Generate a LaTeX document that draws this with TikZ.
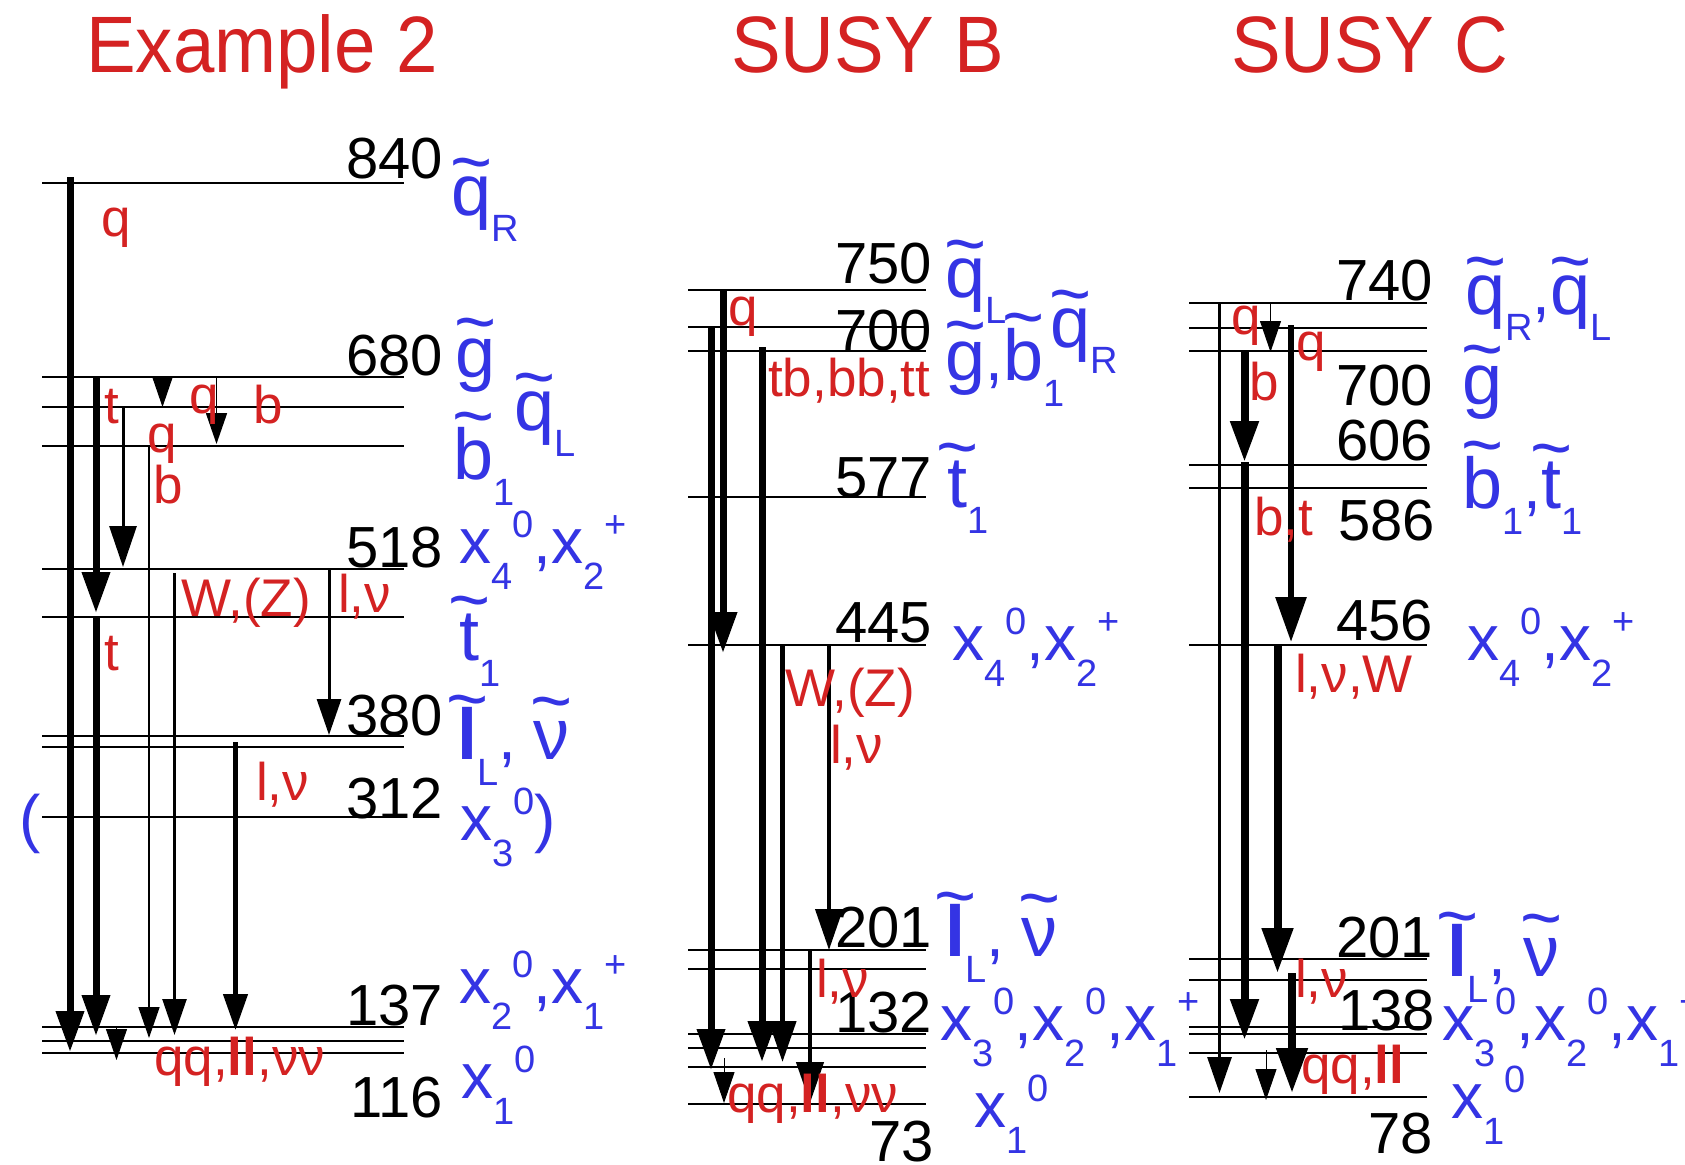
\documentclass[tikz,border=0pt]{standalone}
\usepackage{fontspec}
\setmainfont{Liberation Sans}
\usetikzlibrary{arrows.meta}
\definecolor{lblred}{RGB}{212,34,34}
\definecolor{lblblue}{RGB}{52,52,228}
\newcommand{\fsz}[1]{\fontsize{#1}{#1}\selectfont}
\newcommand{\lo}[1]{\raisebox{-26pt}{\fsz{38}#1}}
\newcommand{\hi}[1]{\raisebox{26pt}{\fsz{38}#1}}
\newcommand{\tl}[2][0.4em]{{\fsz{72}\ooalign{#2\cr\hidewidth\raisebox{#1}{\textasciitilde}\hidewidth\cr}}}
\begin{document}
\begin{tikzpicture}[x=1pt,y=-1pt,
  lvl/.style={line width=1.6pt},
  num/.style={anchor=base east, inner sep=0pt, font=\fsz{58}},
  lab/.style={anchor=base west, inner sep=0pt, text=lblblue, font=\fsz{64}},
  dec/.style={anchor=base west, inner sep=0pt, text=lblred, font=\fsz{53}},
  ttl/.style={anchor=base west, inner sep=0pt, text=lblred, font=\fsz{80}, xscale=0.93},
  hxl/.style={-{Triangle[length=45pt,width=30pt]}},
  hbig/.style={-{Triangle[length=41pt,width=27pt]}},
  hmid/.style={-{Triangle[length=36pt,width=24pt]}},
  hsmall/.style={-{Triangle[length=31pt,width=21pt]}},
  wA/.style={line width=7pt}, wB/.style={line width=4.5pt}, wC/.style={line width=3pt},
  wD/.style={line width=1.8pt}, wE/.style={line width=1pt}]
\fill[white] (0,0) rectangle (1685,1164);
\useasboundingbox (0,0) rectangle (1685,1164);

% titles
\node[ttl] (t1) at (86,72) {Example 2};
\node[ttl] (t2) at (731,72) {SUSY B};
\node[ttl] (t3) at (1231,72) {SUSY C};

% level lines
\foreach \y in {183,377,407,446,569,617,736,747,817,1027,1041,1053}{
  \coordinate (pa\y) at (42,\y); \coordinate (pb\y) at (404,\y);
  \draw[lvl] (pa\y) -- (pb\y);}
\foreach \y in {290,327,351,497,645,950,969,1034,1048,1067,1104}{
  \coordinate (qa\y) at (688,\y); \coordinate (qb\y) at (926,\y);
  \draw[lvl] (qa\y) -- (qb\y);}
\foreach \y in {303,328,351,465,488,645,959,980,1027,1034,1053,1097}{
  \coordinate (ra\y) at (1189,\y); \coordinate (rb\y) at (1427,\y);
  \draw[lvl] (ra\y) -- (rb\y);}

% arrows panel 1
\coordinate (a1s) at (70,177);    \coordinate (a1e) at (70,1052);
\coordinate (a2s) at (96,377);    \coordinate (a2e) at (96,613);
\coordinate (a3s) at (96,616);    \coordinate (a3e) at (96,1036);
\coordinate (a4s) at (123,407);   \coordinate (a4e) at (123,567);
\coordinate (a5s) at (162.5,376); \coordinate (a5e) at (162.5,407);
\coordinate (a6s) at (216.5,377); \coordinate (a6e) at (216.5,444);
\coordinate (a7s) at (149,446);   \coordinate (a7e) at (149,1038);
\coordinate (a8s) at (174.5,573); \coordinate (a8e) at (174.5,1035);
\coordinate (a9s) at (329,569);   \coordinate (a9e) at (329,735);
\coordinate (a10s) at (235.5,742);\coordinate (a10e) at (235.5,1030);
\coordinate (a11s) at (116.5,1027);\coordinate (a11e) at (116.5,1060);
\draw[wA,hbig] (a1s) -- (a1e);
\draw[wA,hbig] (a2s) -- (a2e);
\draw[wA,hbig] (a3s) -- (a3e);
\draw[wC,hbig] (a4s) -- (a4e);
\draw[wE,hsmall] (a5s) -- (a5e);
\draw[wD,hsmall] (a6s) -- (a6e);
\draw[wD,hsmall] (a7s) -- (a7e);
\draw[line width=2.5pt,hmid] (a8s) -- (a8e);
\draw[wC,hmid] (a9s) -- (a9e);
\draw[wB,hmid] (a10s) -- (a10e);
\draw[wE,hsmall] (a11s) -- (a11e);

% arrows panel 2
\coordinate (b1s) at (723,290);   \coordinate (b1e) at (723,653);
\coordinate (b2s) at (711,327);   \coordinate (b2e) at (711,1070);
\coordinate (b3s) at (724,1058);  \coordinate (b3e) at (724,1103);
\coordinate (b4s) at (762,347);   \coordinate (b4e) at (762,1062);
\coordinate (b5s) at (782.5,645); \coordinate (b5e) at (782.5,1062);
\coordinate (b6s) at (829,645);   \coordinate (b6e) at (829,950);
\coordinate (b7s) at (810,950);   \coordinate (b7e) at (810,1103);
\draw[wA,hbig] (b1s) -- (b1e);
\draw[wA,hbig] (b2s) -- (b2e);
\draw[wE,hsmall] (b3s) -- (b3e);
\draw[wA,hbig] (b4s) -- (b4e);
\draw[wB,hbig] (b5s) -- (b5e);
\draw[line width=4pt,hbig] (b6s) -- (b6e);
\draw[wB,hbig] (b7s) -- (b7e);

% arrows panel 3
\coordinate (c1s) at (1219.5,302); \coordinate (c1e) at (1219.5,1093);
\coordinate (c2s) at (1270.5,302); \coordinate (c2e) at (1270.5,352);
\coordinate (c3s) at (1244.5,351); \coordinate (c3e) at (1244.5,462);
\coordinate (c4s) at (1244.5,462); \coordinate (c4e) at (1244.5,1040);
\coordinate (c5s) at (1291,325);   \coordinate (c5e) at (1291,642);
\coordinate (c6s) at (1277.5,645); \coordinate (c6e) at (1277.5,973);
\coordinate (c7s) at (1292,973);   \coordinate (c7e) at (1292,1093);
\coordinate (c8s) at (1266,1050);  \coordinate (c8e) at (1266,1100);
\draw[wC,hmid] (c1s) -- (c1e);
\draw[wE,hsmall] (c2s) -- (c2e);
\draw[line width=8pt,hbig] (c3s) -- (c3e);
\draw[line width=8pt,hbig] (c4s) -- (c4e);
\draw[line width=6pt,hxl] (c5s) -- (c5e);
\draw[line width=8pt,hxl] (c6s) -- (c6e);
\draw[line width=8pt,hxl] (c7s) -- (c7e);
\draw[wE,hsmall] (c8s) -- (c8e);

% numbers panel 1
\node[num] (n840) at (443,178) {840};
\node[num] (n680) at (443,375) {680};
\node[num] (n518) at (443,567) {518};
\node[num] (n380) at (443,735) {380};
\node[num] (n312) at (443,818) {312};
\node[num] (n137) at (443,1025) {137};
\node[num] (n116) at (443,1117) {116};
% numbers panel 2
\node[num] (m750) at (932,283) {750};
\node[num] (m700) at (932,350) {700};
\node[num] (m577) at (932,497) {577};
\node[num] (m445) at (932,642) {445};
\node[num] (m201) at (932,947) {201};
\node[num] (m132) at (932,1032) {132};
\node[num] (m73) at (934,1161) {73};
% numbers panel 3
\node[num] (k740) at (1433,300) {740};
\node[num] (k700) at (1433,405) {700};
\node[num] (k606) at (1433,460) {606};
\node[num] (k586) at (1435,540) {586};
\node[num] (k456) at (1433,640) {456};
\node[num] (k201) at (1433,957) {201};
\node[num] (k138) at (1435,1030) {138};
\node[num] (k78) at (1433,1153) {78};

% blue labels panel 1
\node[lab] (p1qR) at (451,215) {\tl{q}\lo{R}};
\node[lab] (p1g) at (455,377) {\tl[0.43em]{g}};
\node[lab] (p1qL) at (514,430) {\tl{q}\lo{L}};
\node[lab] (p1b) at (453,479) {\tl[0.54em]{b}\lo{1}};
\node[lab] (p1x4) at (459,563) {x\lo{4}\hi{0},x\lo{2}\hi{+}};
\node[lab] (p1t) at (459,660) {\tl[0.5em]{t}\lo{1}};
\node[lab] (p1l) at (457,759) {\tl[0.5em]{\textbf{l}}\lo{L}, \tl[0.46em]{ν}};
\node[lab] (p1par) at (19,840) {(};
\node[lab] (p1x3) at (460,840) {x\lo{3}\hi{0})};
\node[lab] (p1x2) at (459,1003) {x\lo{2}\hi{0},x\lo{1}\hi{+}};
\node[lab] (p1x1) at (461,1098) {x\lo{1}\hi{0}};

% red labels panel 1
\node[dec] (p1rq) at (101,236) {q};
\node[dec] (p1rt) at (104,423) {t};
\node[dec] (p1rq2) at (189,413) {q};
\node[dec] (p1rb) at (253,423) {b};
\node[dec] (p1rq3) at (147,452) {q};
\node[dec] (p1rb2) at (153,503) {b};
\node[dec] (p1rW) at (181,616) {W,(Z)};
\node[dec] (p1rl) at (338,612) {l,ν};
\node[dec] (p1rt2) at (104,670) {t};
\node[dec] (p1rl2) at (256,800) {l,ν};
\node[dec] (p1rqq) at (154,1075) {qq,\textbf{ll},νν};

% blue labels panel 2
\node[lab] (p2qL) at (945,297) {\tl{q}\lo{L}};
\node[lab] (p2qR) at (1050,347) {\tl{q}\lo{R}};
\node[lab] (p2gb) at (945,380) {\tl[0.43em]{g},\tl[0.54em]{b}\lo{1}};
\node[lab] (p2t) at (947,507) {\tl[0.5em]{t}\lo{1}};
\node[lab] (p2x4) at (952,660) {x\lo{4}\hi{0},x\lo{2}\hi{+}};
\node[lab] (p2l) at (945,956) {\tl[0.5em]{\textbf{l}}\lo{L}, \tl[0.46em]{ν}};
\node[lab] (p2x3) at (940,1040) {x\lo{3}\hi{0},x\lo{2}\hi{0},x\lo{1}\hi{+}};
\node[lab] (p2x1) at (974,1127) {x\lo{1}\hi{0}};

% red labels panel 2
\node[dec] (p2rq) at (728,325) {q};
\node[dec] (p2rtb) at (768,396) {tb,bb,tt};
\node[dec] (p2rW) at (785,706) {W,(Z)};
\node[dec] (p2rl) at (830,763) {l,ν};
\node[dec] (p2rl2) at (816,997) {l,ν};
\node[dec] (p2rqq) at (727,1112) {qq,\textbf{ll},νν};

% blue labels panel 3
\node[lab] (p3q) at (1465,314) {\tl{q}\lo{R},\tl{q}\lo{L}};
\node[lab] (p3g) at (1462,404) {\tl[0.43em]{g}};
\node[lab] (p3bt) at (1462,508) {\tl[0.54em]{b}\lo{1},\tl[0.5em]{t}\lo{1}};
\node[lab] (p3x4) at (1467,660) {x\lo{4}\hi{0},x\lo{2}\hi{+}};
\node[lab] (p3l) at (1447,976) {\tl[0.5em]{\textbf{l}}\lo{L}, \tl[0.46em]{ν}};
\node[lab] (p3x3) at (1442,1040) {x\lo{3}\hi{0},x\lo{2}\hi{0},x\lo{1}\hi{+}};
\node[lab] (p3x1) at (1451,1118) {x\lo{1}\hi{0}};

% red labels panel 3
\node[dec] (p3rq) at (1231,334) {q};
\node[dec] (p3rq2) at (1296,360) {q};
\node[dec] (p3rb) at (1249,400) {b};
\node[dec] (p3rbt) at (1254,535) {b,t};
\node[dec] (p3rl) at (1295,692) {l,ν,W};
\node[dec] (p3rl2) at (1295,997) {l,ν};
\node[dec] (p3rqq) at (1301,1083) {qq,\textbf{ll}};
\end{tikzpicture}
\end{document}
